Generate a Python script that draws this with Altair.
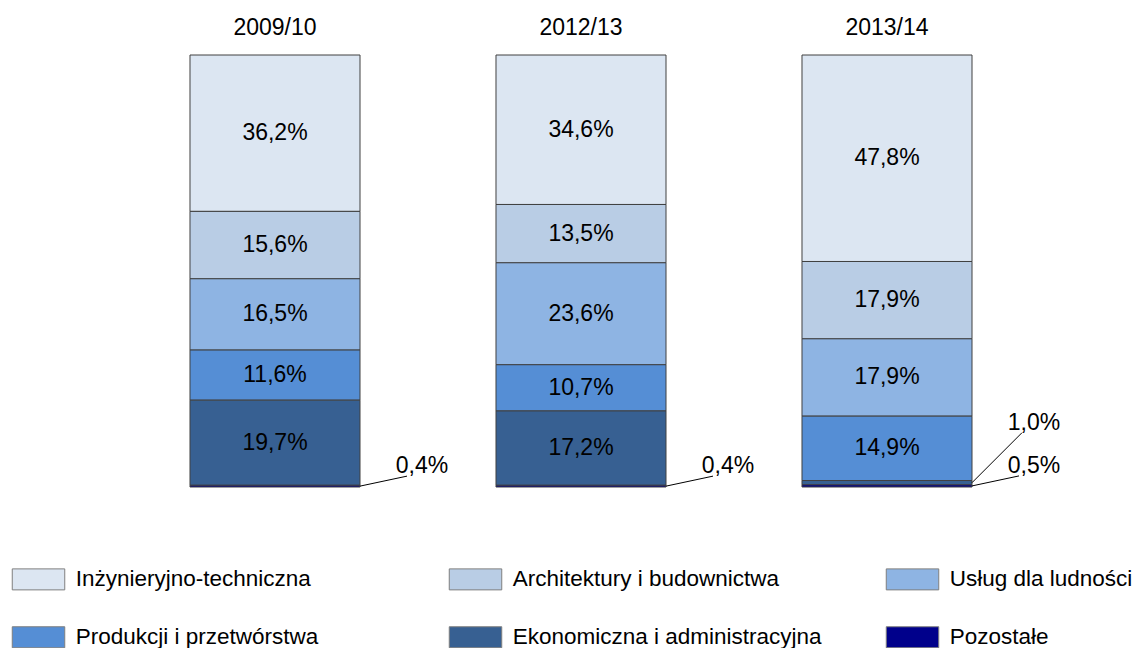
import altair as alt
import pandas as pd

years = ["2009/10", "2012/13", "2013/14"]
categories = ["Inżynieryjno-techniczna", "Architektury i budownictwa", "Usług dla ludności",
              "Produkcji i przetwórstwa", "Ekonomiczna i administracyjna", "Pozostałe"]
colors = ["#DCE6F2", "#B9CDE5", "#8EB4E3", "#558ED5", "#376092", "#00008B"]
v_2009 = [36.2, 15.6, 16.5, 11.6, 19.7, 0.4]
v_2012 = [34.6, 13.5, 23.6, 10.7, 17.2, 0.4]
v_2013 = [47.8, 17.9, 17.9, 14.9, 1.0, 0.5]

rows = []
for yr, vals in zip(years, [v_2009, v_2012, v_2013]):
    for i, (c, v) in enumerate(zip(categories, vals)):
        rows.append({"year": yr, "cat": c, "idx": i, "value": v,
                     "label": f"{v:.1f}".replace(".", ",") + "%"})
df = pd.DataFrame(rows)

FONT = "Liberation Sans"
FS = 23

xscale = alt.Scale(paddingInner=0.4444, paddingOuter=0.2222)
xaxis = alt.Axis(orient="top", title=None, domain=False, ticks=False, tickSize=0,
                 labelAngle=0, labelFontSize=FS, labelFont=FONT, labelPadding=16,
                 labelColor="#000000")
yscale = alt.Scale(domain=[0, 100], nice=False)


def X(bp=None):
    if bp is None:
        return alt.X("year:N", sort=years, scale=xscale, axis=xaxis)
    return alt.X("year:N", sort=years, scale=xscale, axis=xaxis, bandPosition=bp)


base = alt.Chart(df).transform_stack(
    stack="value", groupby=["year"],
    sort=[alt.SortField("idx", order="descending")], as_=["y0", "y1"]
).transform_calculate(mid="(datum.y0 + datum.y1) / 2")

legend = alt.Legend(
    orient="none", legendX=-94.75, legendY=513, columns=3, direction="horizontal",
    title=None,
    symbolType="M-2.5,-1H2.5V1H-2.5Z", symbolSize=441,
    symbolStrokeColor="#7f7f7f", symbolStrokeWidth=1, symbolOpacity=1,
    labelFontSize=22.5, labelFont=FONT, labelColor="#000000", labelOffset=26,
    labelLimit=600, columnPadding=62, rowPadding=32, gridAlign="all", padding=0,
)

bars = base.mark_bar(stroke="#404040", strokeWidth=1).encode(
    x=X(),
    y=alt.Y("y0:Q", scale=yscale, axis=None),
    y2="y1:Q",
    color=alt.Color("cat:N", scale=alt.Scale(domain=categories, range=colors), legend=legend),
)

inner = base.transform_filter("datum.value >= 3").mark_text(
    fontSize=FS, font=FONT, color="#000000", baseline="middle").encode(
    x=X(), y=alt.Y("mid:Q", scale=yscale, axis=None), text="label:N")

poz_label = base.transform_filter("datum.idx == 5").mark_text(
    fontSize=FS, font=FONT, color="#000000", baseline="middle", dx=62, dy=-20).encode(
    x=X(1), y=alt.Y("mid:Q", scale=yscale, axis=None), text="label:N")

eko_label = base.transform_filter("datum.idx == 4 && datum.value < 3").mark_text(
    fontSize=FS, font=FONT, color="#000000", baseline="middle", dx=62, dy=-60).encode(
    x=X(1), y=alt.Y("mid:Q", scale=yscale, axis=None), text="label:N")

poz_line = base.transform_filter("datum.idx == 5").mark_rule(
    color="#000000", strokeWidth=1, x2Offset=47, y2Offset=-10).encode(
    x=X(1), x2=alt.X2("year:N", bandPosition=1),
    y=alt.Y("mid:Q", scale=yscale, axis=None), y2="mid:Q")

eko_line = base.transform_filter("datum.idx == 4 && datum.value < 3").mark_rule(
    color="#000000", strokeWidth=1, x2Offset=50, y2Offset=-50).encode(
    x=X(1), x2=alt.X2("year:N", bandPosition=1),
    y=alt.Y("mid:Q", scale=yscale, axis=None), y2="mid:Q")

chart = alt.layer(bars, inner, poz_line, eko_line, poz_label, eko_label).properties(
    width=918, height=432,
    autosize=alt.AutoSizeParams(type="none"),
    padding={"left": 114, "top": 47, "right": 99, "bottom": 161},
).configure(font=FONT).configure_view(strokeWidth=0, stroke="transparent")

chart.save("out.html", embed_options={"renderer": "svg", "actions": False})
